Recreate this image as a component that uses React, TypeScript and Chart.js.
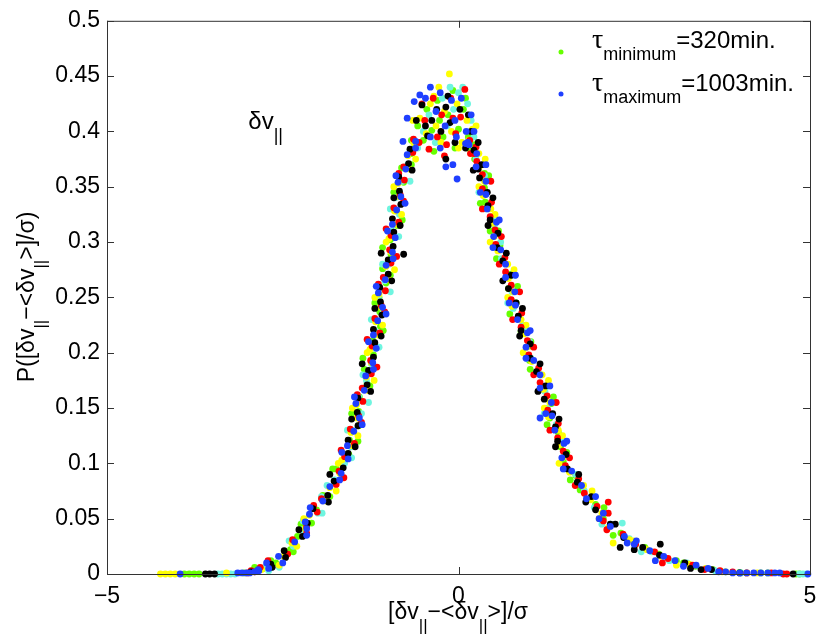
import { useEffect, useRef } from "react"
import { Chart, registerables } from "chart.js"

Chart.register(...registerables)

type Pt = [number, number]

// points, one list per colour
const greenPts: Pt[] = [
  [-3.9, 0], [-3.83, 0], [-3.76, 0], [-3.69, 0], [-3.05, 0.001], [-2.78, 0.005],
  [-2.67, 0.012], [-2.39, 0.022], [-2.29, 0.034], [-2.09, 0.046], [-2.02, 0.058], [-1.93, 0.071],
  [-1.76, 0.083], [-1.74, 0.095], [-1.56, 0.108], [-1.55, 0.121], [-1.42, 0.134], [-1.42, 0.147],
  [-1.41, 0.16], [-1.3, 0.172], [-1.34, 0.185], [-1.21, 0.198], [-1.22, 0.211], [-1.11, 0.224],
  [-1.12, 0.237], [-1.13, 0.25], [-1.03, 0.263], [-1.08, 0.276], [-0.96, 0.289], [-0.97, 0.302],
  [-0.87, 0.315], [-0.88, 0.328], [-0.89, 0.341], [-0.78, 0.354], [-0.81, 0.367], [-0.67, 0.38],
  [-0.67, 0.392],
  [-2.35, 0.02], [-2.24, 0.045], [-1.83, 0.07], [-1.79, 0.095], [-1.43, 0.12], [-1.52, 0.145],
  [-1.26, 0.17], [-1.36, 0.195], [-1.07, 0.22], [-1.19, 0.245], [-0.97, 0.27], [-1.08, 0.295],
  [-0.8, 0.32], [-0.92, 0.345], [-0.67, 0.37],
  [-0.58, 0.405], [-0.5, 0.392], [-0.45, 0.42], [-0.38, 0.401], [-0.3, 0.428], [-0.22, 0.395],
  [-0.15, 0.415], [-0.08, 0.437], [0.0, 0.402], [0.07, 0.42], [0.14, 0.395], [-0.35, 0.382], [-0.05, 0.385],
  [-0.62, 0.388], [-0.27, 0.41], [0.1, 0.43],
  [0.23, 0.388], [0.23, 0.375], [0.37, 0.362], [0.37, 0.349], [0.38, 0.336], [0.49, 0.323],
  [0.45, 0.31], [0.59, 0.297], [0.61, 0.284], [0.74, 0.271], [0.71, 0.258], [0.82, 0.245],
  [0.85, 0.232], [0.89, 0.219], [1.02, 0.206], [1.01, 0.193], [1.16, 0.18], [1.2, 0.167],
  [1.32, 0.154], [1.3, 0.141], [1.42, 0.128], [1.45, 0.115], [1.49, 0.102], [1.67, 0.089],
  [1.73, 0.076], [1.95, 0.063], [2.06, 0.05], [2.31, 0.037], [2.51, 0.026], [2.85, 0.018],
  [0.13, 0.385], [0.43, 0.36], [0.31, 0.335], [0.57, 0.31], [0.54, 0.285], [0.84, 0.26],
  [0.73, 0.235], [1.03, 0.21], [1.02, 0.185], [1.35, 0.16], [1.26, 0.135], [1.54, 0.11],
  [1.59, 0.085], [2.07, 0.06], [2.2, 0.035],
  [3.1, 0.012], [3.37, 0.007], [3.62, 0.004], [3.8, 0.002], [4.0, 0.0015], [4.3, 0.001],
  [4.4, 0.001], [4.8, 0], [4.85, 0], [-2.9, 0.006], [-2.6, 0.01], [3.2, 0.01], [2.65, 0.024],
]

const cyanPts: Pt[] = [
  [-3.42, 0], [-3.36, 0], [-3.3, 0], [-3.24, 0], [-3.18, 0], [-2.7, 0.003], [-2.55, 0.006],
  [-2.35, 0.025], [-2.22, 0.04], [-2.0, 0.055], [-1.95, 0.07], [-1.76, 0.085], [-1.62, 0.1],
  [-1.53, 0.115], [-1.51, 0.13], [-1.38, 0.145], [-1.42, 0.16], [-1.31, 0.175], [-1.24, 0.19],
  [-1.19, 0.205], [-1.19, 0.22], [-1.08, 0.235], [-1.14, 0.25], [-1.05, 0.265], [-0.99, 0.28],
  [-0.94, 0.295], [-0.95, 0.31], [-0.84, 0.325], [-0.9, 0.34], [-0.8, 0.355], [-0.72, 0.37],
  [-2.21, 0.048],
  [-2.41, 0.03], [-1.94, 0.055], [-1.87, 0.08], [-1.52, 0.105], [-1.58, 0.13], [-1.28, 0.155],
  [-1.36, 0.18], [-1.13, 0.205], [-1.24, 0.23], [-0.97, 0.255], [-1.08, 0.28], [-0.85, 0.305],
  [-0.97, 0.33], [-0.69, 0.355],
  [-0.5, 0.4], [-0.42, 0.415], [-0.33, 0.39], [-0.23, 0.43], [-0.16, 0.405], [-0.07, 0.42],
  [0.0, 0.435], [0.06, 0.44], [0.13, 0.425], [0.22, 0.395], [-0.58, 0.385], [-0.12, 0.44], [0.18, 0.41],
  [0.25, 0.375], [0.37, 0.36], [0.39, 0.345], [0.39, 0.33], [0.51, 0.315], [0.6, 0.3],
  [0.61, 0.285], [0.75, 0.27], [0.76, 0.255], [0.78, 0.24], [0.91, 0.225], [1.01, 0.21],
  [1.03, 0.195], [1.18, 0.18], [1.23, 0.165], [1.26, 0.15], [1.39, 0.135], [1.48, 0.12],
  [1.48, 0.105], [1.67, 0.09], [1.79, 0.075], [1.93, 0.06], [2.16, 0.045], [2.33, 0.046],
  [0.38, 0.37], [0.29, 0.345], [0.53, 0.32], [0.5, 0.295], [0.8, 0.27], [0.7, 0.245],
  [0.97, 0.22], [0.97, 0.195], [1.29, 0.17], [1.22, 0.145], [1.49, 0.12], [1.5, 0.095],
  [1.94, 0.07], [2.04, 0.045],
  [2.43, 0.032], [2.75, 0.02], [3.25, 0.01], [3.65, 0.003], [4.02, 0.001], [4.85, 0],
  [4.9, 0], [4.95, 0], [2.6, 0.02], [3.0, 0.012], [-2.75, 0.006],
]

const yellowPts: Pt[] = [
  [-4.24, 0], [-4.17, 0], [-4.1, 0], [-4.03, 0], [-3.3, 0.001],
  [-2.49, 0.016], [-2.37, 0.028], [-2.18, 0.041], [-2.12, 0.053], [-1.88, 0.066], [-1.83, 0.078],
  [-1.69, 0.091], [-1.66, 0.103], [-1.51, 0.116], [-1.53, 0.128], [-1.44, 0.141], [-1.45, 0.153],
  [-1.29, 0.166], [-1.31, 0.178], [-1.24, 0.191], [-1.26, 0.203], [-1.14, 0.216], [-1.18, 0.228],
  [-1.1, 0.241], [-1.13, 0.253], [-0.99, 0.266], [-1.03, 0.278], [-0.96, 0.291], [-0.99, 0.303],
  [-0.87, 0.316], [-0.91, 0.328], [-0.84, 0.341], [-0.86, 0.353], [-0.7, 0.366], [-0.72, 0.378],
  [-0.64, 0.39],
  [-2.3, 0.025], [-2.2, 0.05], [-1.74, 0.075], [-1.71, 0.1], [-1.43, 0.125], [-1.51, 0.15],
  [-1.2, 0.175], [-1.3, 0.2], [-1.08, 0.225], [-1.19, 0.25], [-0.91, 0.275], [-1.03, 0.3],
  [-0.81, 0.325], [-0.92, 0.35], [-0.61, 0.375],
  [-0.55, 0.412], [-0.46, 0.398], [-0.4, 0.425], [-0.32, 0.405], [-0.25, 0.39], [-0.2, 0.418],
  [-0.13, 0.452], [-0.1, 0.4], [-0.02, 0.425], [0.05, 0.39], [0.12, 0.41], [0.2, 0.402], [-0.28, 0.44],
  [-0.65, 0.41], [-0.35, 0.432], [0.0, 0.385], [0.25, 0.405],
  [0.15, 0.392], [0.29, 0.38], [0.29, 0.367], [0.37, 0.355], [0.35, 0.342], [0.46, 0.33],
  [0.48, 0.317], [0.51, 0.305], [0.56, 0.292], [0.7, 0.28], [0.71, 0.267], [0.78, 0.255],
  [0.76, 0.242], [0.89, 0.23], [0.93, 0.217], [0.97, 0.205], [1.04, 0.192], [1.19, 0.18],
  [1.21, 0.167], [1.3, 0.155], [1.28, 0.142], [1.42, 0.13], [1.44, 0.117], [1.48, 0.105],
  [1.58, 0.092], [1.78, 0.08], [1.88, 0.067], [2.04, 0.055], [2.13, 0.042], [2.43, 0.031],
  [0.38, 0.375], [0.29, 0.35], [0.52, 0.325], [0.45, 0.3], [0.79, 0.275], [0.7, 0.25],
  [0.96, 0.225], [0.92, 0.2], [1.28, 0.175], [1.22, 0.15], [1.48, 0.125], [1.43, 0.1],
  [1.9, 0.075], [2.0, 0.05], [2.49, 0.03],
  [2.68, 0.022], [2.88, 0.016], [3.28, 0.009], [3.52, 0.005], [3.75, 0.002], [4.1, 0.001],
  [4.25, 0.001], [-2.55, 0.008], [-2.8, 0.004], [3.1, 0.008], [2.2, 0.028],
]

const redPts: Pt[] = [
  [-3.0, 0.001], [-2.9, 0.002],
  [-2.82, 0.006], [-2.43, 0.018], [-2.36, 0.031], [-2.16, 0.043], [-2.01, 0.056], [-1.95, 0.068],
  [-1.74, 0.081], [-1.7, 0.093], [-1.62, 0.106], [-1.48, 0.118], [-1.54, 0.131], [-1.42, 0.143],
  [-1.36, 0.156], [-1.37, 0.168], [-1.24, 0.181], [-1.25, 0.193], [-1.23, 0.206], [-1.12, 0.218],
  [-1.19, 0.231], [-1.1, 0.243], [-1.04, 0.256], [-1.07, 0.268], [-0.96, 0.281], [-0.98, 0.293],
  [-0.96, 0.306], [-0.85, 0.318], [-0.92, 0.331], [-0.83, 0.343], [-0.77, 0.356], [-0.78, 0.368],
  [-0.65, 0.381], [-0.64, 0.393],
  [-2.71, 0.012], [-2.16, 0.037], [-2.06, 0.062], [-1.63, 0.087], [-1.67, 0.112], [-1.38, 0.137],
  [-1.44, 0.162], [-1.16, 0.187], [-1.3, 0.212], [-1.05, 0.237], [-1.14, 0.262], [-0.88, 0.287],
  [-1.03, 0.312], [-0.78, 0.337], [-0.85, 0.362],
  [-0.56, 0.39], [-0.48, 0.41], [-0.42, 0.384], [-0.36, 0.43], [-0.3, 0.395], [-0.24, 0.415],
  [-0.17, 0.388], [-0.11, 0.43], [-0.04, 0.398], [0.03, 0.413], [0.09, 0.438], [0.16, 0.392], [-0.2, 0.378],
  [-0.52, 0.425], [-0.08, 0.412], [0.22, 0.38],
  [0.25, 0.386], [0.26, 0.373], [0.34, 0.361], [0.34, 0.348], [0.47, 0.336], [0.45, 0.323],
  [0.52, 0.311], [0.53, 0.298], [0.66, 0.286], [0.67, 0.273], [0.75, 0.261], [0.75, 0.248],
  [0.9, 0.236], [0.89, 0.223], [0.98, 0.211], [1.0, 0.198], [1.14, 0.186], [1.16, 0.173],
  [1.26, 0.161], [1.27, 0.148], [1.42, 0.136], [1.41, 0.123], [1.49, 0.111], [1.52, 0.098],
  [1.71, 0.086], [1.79, 0.073], [1.97, 0.061], [2.06, 0.048], [2.34, 0.036], [2.52, 0.027],
  [0.17, 0.38], [0.46, 0.355], [0.34, 0.33], [0.61, 0.305], [0.58, 0.28], [0.87, 0.255],
  [0.77, 0.23], [1.07, 0.205], [1.07, 0.18], [1.39, 0.155], [1.3, 0.13], [1.58, 0.105],
  [1.66, 0.08], [2.13, 0.055], [2.11, 0.04],
  [2.79, 0.02], [2.98, 0.014], [3.33, 0.008], [3.72, 0.003], [3.9, 0.002], [4.1, 0.001],
  [4.45, 0.001], [4.62, 0], [4.67, 0], [2.13, 0.065], [-2.95, 0.003], [2.9, 0.01], [3.5, 0.004],
]

const blackPts: Pt[] = [
  [-3.6, 0], [-3.54, 0], [-3.47, 0], [-2.95, 0.002],
  [-2.67, 0.009], [-2.48, 0.021], [-2.22, 0.034], [-2.15, 0.046], [-2.07, 0.059], [-1.86, 0.071],
  [-1.77, 0.084], [-1.64, 0.096], [-1.57, 0.109], [-1.57, 0.121], [-1.43, 0.134], [-1.44, 0.146],
  [-1.43, 0.159], [-1.3, 0.171], [-1.28, 0.184], [-1.21, 0.196], [-1.19, 0.209], [-1.21, 0.221],
  [-1.09, 0.234], [-1.11, 0.246], [-1.12, 0.259], [-1.0, 0.271], [-1.0, 0.284], [-0.93, 0.296],
  [-0.92, 0.309], [-0.94, 0.321], [-0.82, 0.334], [-0.84, 0.346], [-0.85, 0.359], [-0.71, 0.371],
  [-0.69, 0.384], [-0.78, 0.289],
  [-2.46, 0.015], [-2.27, 0.04], [-1.85, 0.065], [-1.83, 0.09], [-1.47, 0.115], [-1.52, 0.14],
  [-1.25, 0.165], [-1.37, 0.19], [-1.1, 0.215], [-1.19, 0.24], [-0.95, 0.265], [-1.1, 0.29],
  [-0.83, 0.315], [-0.92, 0.34], [-0.66, 0.365],
  [-0.6, 0.41], [-0.52, 0.424], [-0.44, 0.396], [-0.38, 0.41], [-0.31, 0.42], [-0.25, 0.4],
  [-0.18, 0.422], [-0.12, 0.408], [-0.05, 0.39], [0.02, 0.42], [0.1, 0.385], [0.18, 0.4],
  [0.28, 0.366], [-0.18, 0.375], [-0.47, 0.405], [-0.15, 0.432], [0.14, 0.415],
  [0.22, 0.383], [0.33, 0.37], [0.3, 0.358], [0.41, 0.345], [0.42, 0.333], [0.45, 0.32],
  [0.56, 0.308], [0.55, 0.295], [0.63, 0.283], [0.75, 0.27], [0.71, 0.258], [0.82, 0.245],
  [0.85, 0.233], [0.89, 0.22], [1.02, 0.208], [1.02, 0.195], [1.11, 0.183], [1.24, 0.17],
  [1.22, 0.158], [1.34, 0.145], [1.38, 0.133], [1.41, 0.12], [1.53, 0.108], [1.55, 0.095],
  [1.69, 0.083], [1.89, 0.07], [1.95, 0.058], [2.16, 0.045], [2.35, 0.033], [2.3, 0.024],
  [0.28, 0.39], [0.21, 0.365], [0.49, 0.34], [0.42, 0.315], [0.68, 0.29], [0.63, 0.265],
  [0.91, 0.24], [0.87, 0.215], [1.16, 0.19], [1.13, 0.165], [1.43, 0.14], [1.38, 0.115],
  [1.71, 0.09], [1.81, 0.065], [2.23, 0.045],
  [2.62, 0.024], [2.87, 0.027], [2.86, 0.017], [3.22, 0.01], [3.45, 0.004], [3.6, 0.004],
  [4.0, 0.001], [4.76, 0], [-2.65, 0.006], [3.3, 0.005], [2.5, 0.022],
]

const bluePts: Pt[] = [
  [-3.96, 0], [-3.14, 0.001], [-3.08, 0.001], [-3.02, 0.001], [-2.97, 0.001], [-2.9, 0.002],
  [-2.84, 0.003],
  [-2.85, 0.004], [-2.56, 0.016], [-2.33, 0.029], [-2.16, 0.041], [-2.12, 0.054], [-1.93, 0.066],
  [-1.83, 0.079], [-1.67, 0.091], [-1.57, 0.104], [-1.58, 0.116], [-1.49, 0.129], [-1.41, 0.141],
  [-1.46, 0.154], [-1.34, 0.166], [-1.32, 0.179], [-1.22, 0.191], [-1.17, 0.204], [-1.21, 0.216],
  [-1.15, 0.229], [-1.08, 0.241], [-1.14, 0.254], [-1.04, 0.266], [-1.03, 0.279], [-0.94, 0.291],
  [-0.9, 0.304], [-0.94, 0.316], [-0.88, 0.329], [-0.82, 0.341], [-0.86, 0.354], [-0.75, 0.366],
  [-0.73, 0.379], [-0.61, 0.391], [-0.63, 0.427], [-0.73, 0.412], [-0.79, 0.391], [-2.18, 0.047],
  [-2.73, 0.01], [-2.16, 0.035], [-2.11, 0.06], [-1.69, 0.085], [-1.66, 0.11], [-1.37, 0.135],
  [-1.48, 0.16], [-1.21, 0.185], [-1.28, 0.21], [-1.03, 0.235], [-1.17, 0.26], [-0.93, 0.285],
  [-1.01, 0.31], [-0.76, 0.335], [-0.89, 0.36], [-0.61, 0.385],
  [-0.55, 0.433], [-0.47, 0.43], [-0.4, 0.395], [-0.32, 0.418], [-0.26, 0.435], [-0.19, 0.405],
  [-0.1, 0.428], [-0.03, 0.395], [0.04, 0.43], [0.11, 0.4], [0.18, 0.415], [-0.26, 0.385],
  [-0.18, 0.368], [-0.08, 0.37], [-0.02, 0.357], [0.1, 0.389], [0.13, 0.39], [0.15, 0.388],
  [-0.4, 0.44], [-0.05, 0.41], [0.22, 0.4],
  [0.26, 0.38], [0.25, 0.368], [0.39, 0.355], [0.39, 0.343], [0.41, 0.33], [0.54, 0.318],
  [0.5, 0.305], [0.6, 0.293], [0.67, 0.28], [0.67, 0.268], [0.8, 0.255], [0.81, 0.243],
  [0.84, 0.23], [0.98, 0.218], [0.96, 0.205], [1.07, 0.193], [1.16, 0.18], [1.16, 0.168],
  [1.32, 0.155], [1.33, 0.143], [1.37, 0.13], [1.5, 0.118], [1.47, 0.105], [1.61, 0.093],
  [1.75, 0.08], [1.82, 0.068], [2.06, 0.055], [2.16, 0.043], [2.36, 0.034], [2.5, 0.027],
  [0.39, 0.37], [0.31, 0.345], [0.58, 0.32], [0.49, 0.295], [0.81, 0.27], [0.72, 0.245],
  [1.02, 0.22], [0.96, 0.195], [1.3, 0.17], [1.24, 0.145], [1.54, 0.12], [1.49, 0.095],
  [1.95, 0.07], [2.0, 0.05], [2.53, 0.03],
  [2.72, 0.021], [2.92, 0.016], [3.08, 0.012], [3.38, 0.008], [3.55, 0.005], [1.16, 0.141],
  [3.7, 0.002], [3.8, 0.002], [3.9, 0.001], [4.0, 0.001], [4.1, 0.001], [4.2, 0.001],
  [4.3, 0.001], [4.4, 0.001], [4.5, 0.001], [4.57, 0.001], [4.97, 0],
  [-2.5, 0.01], [-2.7, 0.005], [2.8, 0.012], [3.2, 0.007], [2.4, 0.028],
]

// drawing order: first listed ends up on top
const seriesList = [
  { name: "blue", color: "#1f3fff", pts: bluePts },
  { name: "black", color: "#000000", pts: blackPts },
  { name: "red", color: "#ff0000", pts: redPts },
  { name: "yellow", color: "#ffff00", pts: yellowPts },
  { name: "cyan", color: "#6ff5e0", pts: cyanPts },
  { name: "green", color: "#66ff00", pts: greenPts },
]

const xTickValues = [-5, 0, 5]
const yTickValues = [0, 0.05, 0.1, 0.15, 0.2, 0.25, 0.3, 0.35, 0.4, 0.45, 0.5]

const legendRows = [
  { color: "#66ff00", sub: "minimum", value: "=320min." },
  { color: "#1f3fff", sub: "maximum", value: "=1003min." },
]

const FONT = "'Liberation Sans', Arial, Helvetica, sans-serif"
const SERIF = "'Liberation Serif', 'DejaVu Serif', serif"

// [text, subscript?, serif?]
type Part = [string, boolean, boolean?]

function drawRich(ctx: CanvasRenderingContext2D, parts: Part[], x: number, y: number, size: number, align: "left" | "center") {
  const fontOf = (p: Part) => {
    const sz = p[1] ? Math.round(size * 0.75) : size
    return `${p[2] ? Math.round(sz * 1.15) : sz}px ${p[2] ? SERIF : FONT}`
  }
  let total = 0
  for (const p of parts) {
    ctx.font = fontOf(p)
    total += ctx.measureText(p[0]).width
  }
  let cx = align === "center" ? x - total / 2 : x
  ctx.textAlign = "left"
  ctx.textBaseline = "alphabetic"
  for (const p of parts) {
    ctx.font = fontOf(p)
    ctx.fillText(p[0], cx, p[1] ? y + size * 0.5 : y)
    cx += ctx.measureText(p[0]).width
  }
}

const decorPlugin = {
  id: "decor",
  afterDraw(chart: Chart) {
    const { ctx, chartArea: a, scales } = chart
    const xs = scales.x
    const ys = scales.y
    ctx.save()
    ctx.strokeStyle = "#333"
    ctx.lineWidth = 1
    ctx.strokeRect(a.left + 0.5, a.top + 0.5, a.right - a.left, a.bottom - a.top)
    ctx.beginPath()
    for (const v of yTickValues) {
      const py = Math.round(ys.getPixelForValue(v)) + 0.5
      ctx.moveTo(a.left, py)
      ctx.lineTo(a.left + 7, py)
      ctx.moveTo(a.right, py)
      ctx.lineTo(a.right - 7, py)
    }
    for (const v of xTickValues) {
      const px = Math.round(xs.getPixelForValue(v)) + 0.5
      ctx.moveTo(px, a.bottom)
      ctx.lineTo(px, a.bottom - 7)
      ctx.moveTo(px, a.top)
      ctx.lineTo(px, a.top + 7)
    }
    ctx.stroke()

    // legend
    legendRows.forEach((row, i) => {
      const by = 48 + i * 43
      ctx.fillStyle = row.color
      ctx.beginPath()
      ctx.arc(561, by + 4 - i, 2.5, 0, Math.PI * 2)
      ctx.fill()
      ctx.fillStyle = "#000"
      drawRich(ctx, [["τ", false, true], [row.sub, true], [row.value, false]], 592, by, 24, "left")
    })

    // annotation
    ctx.fillStyle = "#000"
    drawRich(ctx, [["δv", false], ["||", true]], xs.getPixelForValue(-2.99), ys.getPixelForValue(0.402), 24, "left")

    // axis titles
    drawRich(ctx, [["[δv", false], ["||", true], ["−<δv", false], ["||", true], [">]/σ", false]], 458, 619, 23, "center")
    ctx.translate(34, 297)
    ctx.rotate(-Math.PI / 2)
    drawRich(ctx, [["P([δv", false], ["||", true], ["−<δv", false], ["||", true], [">]/σ)", false]], 0, 0, 23, "center")
    ctx.restore()
  },
}

export default function App() {
  const canvasRef = useRef<HTMLCanvasElement>(null)
  const chartRef = useRef<Chart | null>(null)

  useEffect(() => {
    if (!canvasRef.current) return
    if (chartRef.current) chartRef.current.destroy()

    const datasets = seriesList.map((s, i) => ({
      label: s.name,
      data: s.pts.map(([x, y]) => ({ x, y })),
      backgroundColor: s.color,
      borderColor: s.color,
      pointRadius: 3.4,
      pointHoverRadius: 3.4,
      pointBorderWidth: 0,
      order: i,
      clip: false as const,
    }))

    chartRef.current = new Chart(canvasRef.current, {
      type: "scatter",
      data: { datasets },
      options: {
        animation: false,
        responsive: true,
        maintainAspectRatio: false,
        layout: { padding: { top: 19, right: 20, left: 0, bottom: 0 } },
        plugins: {
          legend: { display: false },
          tooltip: { enabled: false },
        },
        scales: {
          x: {
            type: "linear",
            min: -5,
            max: 5,
            afterFit: (scale) => {
              scale.height = 67
            },
            afterBuildTicks: (scale) => {
              scale.ticks = xTickValues.map((value) => ({ value }))
            },
            grid: { display: false, drawTicks: false },
            border: { display: false },
            ticks: {
              padding: 9,
              color: "#000",
              font: { family: FONT, size: 23 },
              maxRotation: 0,
              callback: (v) => (Number(v) < 0 ? "−" + Math.abs(Number(v)) : String(v)),
            },
          },
          y: {
            type: "linear",
            min: 0,
            max: 0.5,
            afterFit: (scale) => {
              scale.width = 107
            },
            afterBuildTicks: (scale) => {
              scale.ticks = yTickValues.map((value) => ({ value }))
            },
            grid: { display: false, drawTicks: false },
            border: { display: false },
            ticks: {
              padding: 7,
              color: "#000",
              font: { family: FONT, size: 23 },
              callback: (v) => String(+Number(v).toFixed(2)),
            },
          },
        },
      },
      plugins: [decorPlugin],
    })

    return () => {
      if (chartRef.current) {
        chartRef.current.destroy()
        chartRef.current = null
      }
    }
  }, [])

  return (
    <div style={{ position: "absolute", left: 0, top: 0, width: 830, height: 641, background: "#fff" }}>
      <canvas ref={canvasRef} />
    </div>
  )
}
